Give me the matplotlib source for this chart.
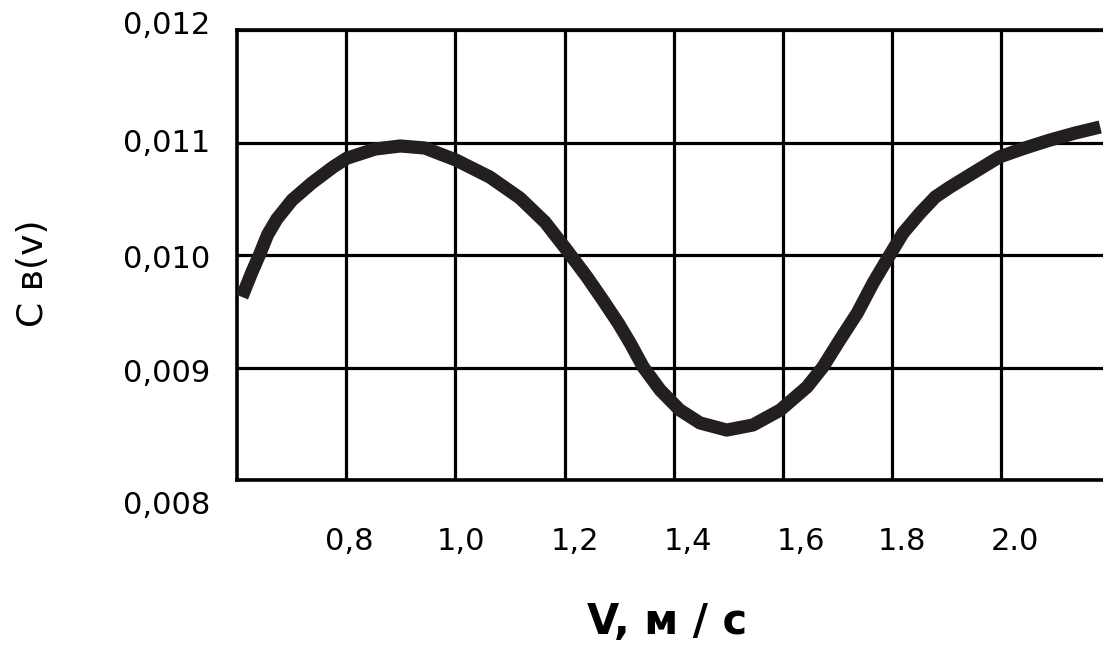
import matplotlib
matplotlib.use("Agg")
import matplotlib.pyplot as plt
from matplotlib.transforms import ScaledTranslation

# data
v = [0.609, 0.6275, 0.641, 0.656, 0.673, 0.701, 0.737, 0.776, 0.801, 0.853, 0.899,
     0.944, 1.001, 1.063, 1.118, 1.164, 1.204, 1.241, 1.270, 1.298, 1.320,
     1.344, 1.375, 1.411, 1.448, 1.497, 1.545, 1.595, 1.644, 1.673, 1.704,
     1.736, 1.765, 1.790, 1.820, 1.851, 1.879, 1.906, 1.942, 1.996, 2.043,
     2.089, 2.135, 2.181]
c = [0.009627, 0.009850, 0.010000, 0.010180, 0.010320, 0.010489, 0.010640, 0.010782, 0.010860, 0.010942, 0.010969,
     0.010951, 0.010844, 0.010693, 0.010507, 0.010293, 0.010044, 0.009804, 0.009600, 0.009396, 0.009218,
     0.009004, 0.008800, 0.008622, 0.008507, 0.008444, 0.008489, 0.008622, 0.008827, 0.009004, 0.009244,
     0.009484, 0.009751, 0.009956, 0.010196, 0.010373, 0.010516, 0.010604, 0.010711, 0.010871, 0.010951,
     0.011022, 0.011084, 0.011138]

xticks = [0.8, 1.0, 1.2, 1.4, 1.6, 1.8, 2.0]
xticklabels = ["0,8", "1,0", "1,2", "1,4", "1,6", "1.8", "2.0"]
yticks = [0.008, 0.009, 0.010, 0.011, 0.012]
yticklabels = ["0,008", "0,009", "0,010", "0,011", "0,012"]

W, H = 1103, 648
fig = plt.figure(figsize=(W / 100, H / 100), dpi=100)
left, right, top, bottom = 237, 1110.6, 30, 480
ax = fig.add_axes([left / W, 1 - bottom / H, (right - left) / W, (bottom - top) / H])

ax.plot(v, c, color="#231f20", lw=9.5, solid_capstyle="butt", solid_joinstyle="round", zorder=3)

ax.set_xlim(0.6, 2.2)
ax.set_ylim(0.008, 0.012)
ax.set_xticks(xticks)
ax.set_xticklabels(xticklabels)
ax.set_yticks(yticks)
ax.set_yticklabels(yticklabels)
ax.grid(True, color="black", lw=2.3)
for s in ["left", "top", "bottom"]:
    ax.spines[s].set_linewidth(2.6)
    ax.spines[s].set_color("black")
ax.spines["right"].set_visible(False)
ax.tick_params(axis="both", length=0, labelsize=22, colors="black")
ax.tick_params(axis="x", pad=34)
ax.tick_params(axis="y", pad=19)

# per-label offsets (pixels) as in the reference
xoff = [3, 6, 10, 14, 18, 10, 14]
for lab, dx in zip(ax.get_xticklabels(), xoff):
    lab.set_transform(lab.get_transform() + ScaledTranslation(dx / 100, 0, fig.dpi_scale_trans))
yoff = [-23, -3, -2, 2, 8]
for lab, dy in zip(ax.get_yticklabels(), yoff):
    lab.set_transform(lab.get_transform() + ScaledTranslation(0, dy / 100, fig.dpi_scale_trans))

fig.text(667 / W, 1 - 622 / H, "V, м / с", ha="center", va="center",
         fontsize=30, fontweight="bold", family="DejaVu Sans")
fig.text(33 / W, 1 - 273 / H, "C в(v)", ha="center", va="center", rotation=90,
         fontsize=26, family="DejaVu Sans")

fig.savefig("out.png", dpi=100)
